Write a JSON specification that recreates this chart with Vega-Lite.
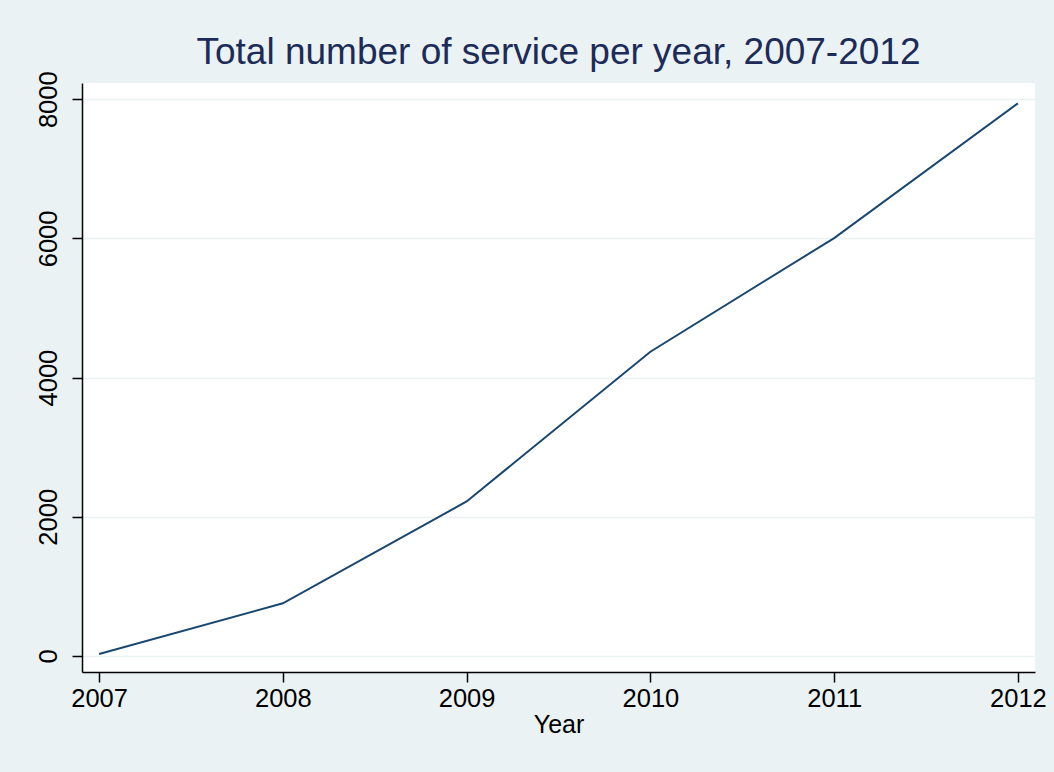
{
  "$schema": "https://vega.github.io/schema/vega-lite/v6.json",
  "autosize": {"type": "none"},
  "width": 953,
  "height": 589,
  "padding": {"left": 82, "top": 83, "right": 19, "bottom": 100},
  "background": "#eaf2f3",
  "view": {"fill": "white", "stroke": null},
  "title": {
    "text": "Total number of service per year, 2007-2012",
    "font": "Liberation Sans",
    "fontSize": 37,
    "fontWeight": "normal",
    "color": "#1c2b58",
    "anchor": "middle",
    "baseline": "alphabetic",
    "offset": -30
  },
  "data": {
    "values": [
      {"Year": 2007, "Services": 29},
      {"Year": 2008, "Services": 757},
      {"Year": 2009, "Services": 2220},
      {"Year": 2010, "Services": 4372},
      {"Year": 2011, "Services": 6005},
      {"Year": 2012, "Services": 7941}
    ]
  },
  "mark": {"type": "line", "color": "#1a476f", "strokeWidth": 2},
  "encoding": {
    "x": {
      "field": "Year",
      "type": "quantitative",
      "scale": {"domain": [2006.907, 2012.093], "nice": false, "zero": false},
      "axis": {
        "values": [2007, 2008, 2009, 2010, 2011, 2012],
        "format": "d",
        "grid": false,
        "title": "Year",
        "titleFont": "Liberation Sans",
        "titleFontSize": 25,
        "titleFontWeight": "normal",
        "titleColor": "black",
        "titlePadding": 1,
        "labelFont": "Liberation Sans",
        "labelFontSize": 25.5,
        "labelColor": "black",
        "labelPadding": 4,
        "labelFlush": false,
        "labelOverlap": false,
        "domainColor": "black",
        "domainWidth": 1.5,
        "tickColor": "black",
        "tickWidth": 1.5,
        "tickSize": 10
      }
    },
    "y": {
      "field": "Services",
      "type": "quantitative",
      "scale": {"domain": [-230, 8233], "nice": false, "zero": false},
      "axis": {
        "values": [0, 2000, 4000, 6000, 8000],
        "format": "d",
        "title": null,
        "grid": true,
        "gridColor": "#eaf2f3",
        "gridWidth": 1.5,
        "labelFont": "Liberation Sans",
        "labelFontSize": 25.5,
        "labelColor": "black",
        "labelAngle": -90,
        "labelAlign": "center",
        "labelBaseline": "alphabetic",
        "labelPadding": 16,
        "labelFlush": false,
        "labelOverlap": false,
        "domainColor": "black",
        "domainWidth": 1.5,
        "tickColor": "black",
        "tickWidth": 1.5,
        "tickSize": 10
      }
    }
  }
}
